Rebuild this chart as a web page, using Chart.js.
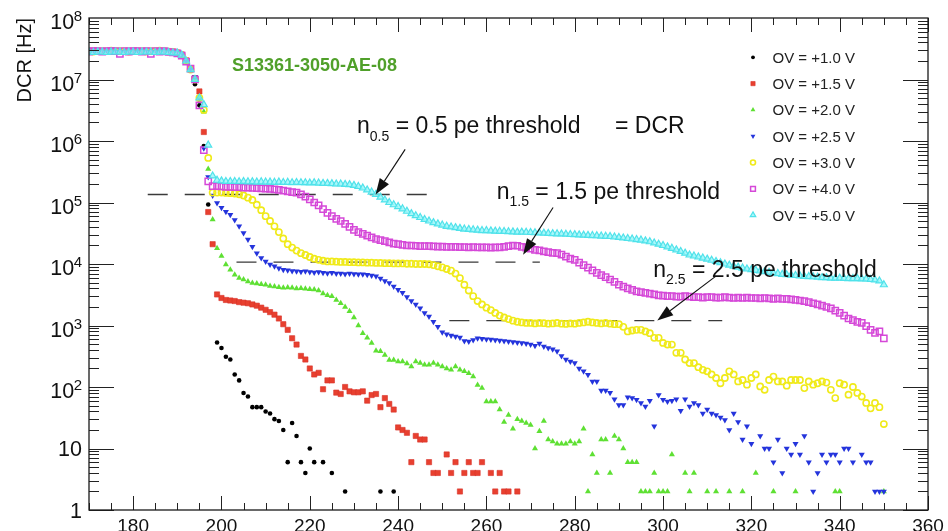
<!DOCTYPE html>
<html><head><meta charset="utf-8">
<script src="https://cdn.jsdelivr.net/npm/chart.js@4.4.1/dist/chart.umd.min.js"></script>
<style>html,body{margin:0;padding:0;background:#fff;}canvas{display:block;}</style>
</head><body>
<canvas id="c" width="948" height="531"></canvas>
<script>
// Threshold (DAC units), 170 .. 350
const dac = [
170,171,172,173,174,175,176,177,178,179,
180,181,182,183,184,185,186,187,188,189,
190,191,192,193,194,195,196,197,198,199,
200,201,202,203,204,205,206,207,208,209,
210,211,212,213,214,215,216,217,218,219,
220,221,222,223,224,225,226,227,228,229,
230,231,232,233,234,235,236,237,238,239,
240,241,242,243,244,245,246,247,248,249,
250,251,252,253,254,255,256,257,258,259,
260,261,262,263,264,265,266,267,268,269,
270,271,272,273,274,275,276,277,278,279,
280,281,282,283,284,285,286,287,288,289,
290,291,292,293,294,295,296,297,298,299,
300,301,302,303,304,305,306,307,308,309,
310,311,312,313,314,315,316,317,318,319,
320,321,322,323,324,325,326,327,328,329,
330,331,332,333,334,335,336,337,338,339,
340,341,342,343,344,345,346,347,348,349,
350];

// DCR [Hz] per over-voltage (null = no count)
const dcrOV10 = [
2.9e7,2.9e7,2.85e7,2.9e7,2.9e7,2.9e7,2.95e7,2.9e7,2.9e7,2.9e7,
2.9e7,2.95e7,2.9e7,2.9e7,2.9e7,2.95e7,2.9e7,2.9e7,2.85e7,2.8e7,
2.7e7,2.5e7,2.0e7,1.45e7,8.4e6,3.8e6,8.3e5,9.3e4,null,530,
430,310,280,160,128,80,70,47,47,47,
40,37,30,28,20,6,26,16,6,4,
10,6,null,6,null,4,null,null,2,null,
null,null,null,null,null,null,2,null,null,2];

const dcrOV15 = [
2.9e7,2.95e7,2.9e7,2.9e7,2.9e7,2.85e7,2.9e7,2.9e7,2.9e7,2.95e7,
2.9e7,2.9e7,2.9e7,2.95e7,2.9e7,2.9e7,2.9e7,2.9e7,2.9e7,2.85e7,
2.7e7,2.55e7,2.05e7,1.5e7,1.05e7,6.4e6,1.4e6,7.0e4,2.1e4,3.2e3,
2.8e3,2.6e3,2.55e3,2.5e3,2.4e3,2.35e3,2.3e3,2.2e3,2.1e3,1.95e3,
1.8e3,1.65e3,1.5e3,1.3e3,1.05e3,850,620,490,320,280,
200,160,170,92,128,128,81,77,100,85,
82,82,85,60,74,77,47,66,53,43,
22,20,18,6,16,14,14,6,4,4,
null,8,4,6,2,4,6,4,4,6,
null,4,2,4,2,2,null,2];

const dcrOV20 = [
2.9e7,2.9e7,2.9e7,2.85e7,2.9e7,2.9e7,2.9e7,2.95e7,2.9e7,2.9e7,
2.95e7,2.9e7,2.9e7,2.9e7,2.85e7,2.9e7,2.9e7,2.95e7,2.9e7,2.8e7,
2.7e7,2.5e7,2.0e7,1.5e7,1.0e7,5.0e6,3.0e6,3.5e5,5.3e4,1.8e4,
1.35e4,9.8e3,8.1e3,6.7e3,5.9e3,5.6e3,5.2e3,4.9e3,4.8e3,4.7e3,
4.6e3,4.4e3,4.3e3,4.2e3,4.1e3,4.15e3,4.1e3,4.0e3,4.05e3,3.95e3,
3.9e3,3.85e3,3.7e3,3.3e3,3.1e3,3.0e3,2.6e3,2.3e3,2.0e3,1.7e3,
1.35e3,1.0e3,750,630,520,390,380,330,275,275,
260,260,240,215,260,245,230,230,245,230,
215,200,190,215,190,180,168,148,108,96,
58,58,58,43,27,35,21,30,28,26,
24,10,19,28,14,13,12,12,12,13,
12,13,21,2,8,4,14,14,4,16,
14,10,6,6,6,2,2,2,4,2,
2,2,8,null,null,4,2,4,null,null,
2,null,2,null,null,2,null,null,2,null,
null,4,null,null,null,2,null,null,null,null,
2,null,null,null,null,null,null,null,null,2,
2,null,null,null,null,null,null,null,null,null,
2];

const dcrOV25 = [
2.9e7,2.9e7,2.9e7,2.9e7,2.85e7,2.9e7,2.9e7,2.9e7,2.95e7,2.9e7,
2.9e7,2.9e7,2.95e7,2.9e7,2.9e7,2.9e7,2.85e7,2.9e7,2.9e7,2.85e7,
2.7e7,2.55e7,2.0e7,1.5e7,1.1e7,4.6e6,7.6e5,2.6e5,1.3e5,9.8e4,
8.2e4,7.1e4,6.3e4,5.2e4,4.1e4,3.2e4,2.5e4,1.9e4,1.5e4,1.25e4,
1.1e4,9.8e3,9.2e3,8.5e3,8.1e3,7.9e3,7.7e3,7.6e3,7.5e3,7.6e3,
7.4e3,7.3e3,7.4e3,7.2e3,7.1e3,7.2e3,7.0e3,7.0e3,6.9e3,7.0e3,
6.9e3,6.8e3,6.8e3,6.7e3,6.5e3,6.3e3,5.8e3,5.3e3,4.9e3,4.3e3,
3.8e3,3.4e3,2.9e3,2.5e3,2.2e3,1.9e3,1.6e3,1.4e3,1.15e3,950,
780,720,690,660,640,560,550,580,620,610,
600,590,580,570,560,550,540,530,520,510,
490,470,510,457,430,410,380,320,280,260,
245,200,180,158,123,123,88,88,81,63,
51,51,68,66,62,55,48,60,23,74,
62,58,60,63,41,63,48,55,51,37,
43,37,35,32,29,20,37,27,14,23,
12,null,16,10,10,6,14,4,10,8,
12,8,16,6,2,4,8,6,8,8,
6,10,10,6,null,8,6,6,2,2,
2];

const dcrOV30 = [
2.9e7,2.85e7,2.9e7,2.9e7,2.9e7,2.95e7,2.9e7,2.9e7,2.9e7,2.85e7,
2.9e7,2.9e7,2.9e7,2.85e7,2.9e7,2.9e7,2.95e7,2.9e7,2.85e7,2.8e7,
2.7e7,2.5e7,2.0e7,1.45e7,1.0e7,5.0e6,3.2e6,5.3e5,1.45e5,1.45e5,
1.45e5,1.43e5,1.42e5,1.4e5,1.36e5,1.3e5,1.2e5,1.1e5,9.2e4,7.5e4,
6.0e4,5.0e4,4.1e4,3.3e4,2.6e4,2.1e4,1.85e4,1.65e4,1.5e4,1.4e4,
1.3e4,1.22e4,1.17e4,1.13e4,1.1e4,1.1e4,1.09e4,1.08e4,1.08e4,1.07e4,
1.07e4,1.06e4,1.06e4,1.05e4,1.05e4,1.04e4,1.04e4,1.03e4,1.03e4,1.02e4,
1.02e4,1.02e4,1.01e4,1.01e4,1.0e4,1.0e4,1.0e4,9.9e3,9.6e3,9.2e3,
8.8e3,8.3e3,7.8e3,7.0e3,5.9e3,4.6e3,3.7e3,3.0e3,2.5e3,2.2e3,
1.95e3,1.78e3,1.6e3,1.45e3,1.35e3,1.27e3,1.2e3,1.15e3,1.12e3,1.1e3,
1.1e3,1.08e3,1.1e3,1.09e3,1.07e3,1.08e3,1.1e3,1.07e3,1.06e3,1.08e3,
1.07e3,1.1e3,1.12e3,1.15e3,1.12e3,1.1e3,1.08e3,1.1e3,1.07e3,1.05e3,
1.05e3,950,800,830,850,850,800,750,630,630,
520,490,490,360,360,280,245,245,210,190,
180,160,140,115,140,180,160,123,130,109,
140,160,102,90,130,148,123,123,105,130,
130,130,96,123,109,115,123,118,90,66,
115,109,75,100,80,70,55,45,55,47,
25];

const dcrOV40 = [
2.85e7,2.9e7,2.9e7,2.85e7,2.9e7,2.9e7,2.9e7,2.6e7,2.9e7,2.85e7,
2.9e7,2.9e7,2.85e7,2.9e7,2.6e7,2.9e7,2.85e7,2.9e7,2.8e7,2.75e7,
2.65e7,2.45e7,1.95e7,1.5e7,1.0e7,3.8e6,7.1e5,2.2e5,1.85e5,1.85e5,
1.82e5,1.8e5,1.8e5,1.78e5,1.77e5,1.75e5,1.75e5,1.73e5,1.72e5,1.7e5,
1.68e5,1.66e5,1.63e5,1.6e5,1.56e5,1.52e5,1.48e5,1.45e5,1.35e5,1.25e5,
1.12e5,1.0e5,9.0e4,7.8e4,6.8e4,6.0e4,5.4e4,5.0e4,4.5e4,4.0e4,
3.6e4,3.3e4,3.1e4,2.9e4,2.7e4,2.55e4,2.45e4,2.35e4,2.25e4,2.15e4,
2.1e4,2.05e4,2.0e4,2.0e4,1.98e4,1.96e4,1.95e4,1.95e4,1.93e4,1.92e4,
1.92e4,1.9e4,1.9e4,1.9e4,1.88e4,1.88e4,1.87e4,1.88e4,1.87e4,1.86e4,
1.86e4,1.85e4,1.87e4,1.86e4,1.9e4,1.95e4,2.0e4,1.98e4,1.9e4,1.85e4,
1.78e4,1.7e4,1.66e4,1.6e4,1.56e4,1.52e4,1.5e4,1.42e4,1.32e4,1.22e4,
1.17e4,1.05e4,9.6e3,8.7e3,7.9e3,7.2e3,6.6e3,6.1e3,5.6e3,5.1e3,
4.6e3,4.3e3,4.0e3,3.8e3,3.6e3,3.5e3,3.4e3,3.3e3,3.2e3,3.1e3,
3.05e3,3.0e3,3.0e3,2.95e3,2.95e3,3.0e3,2.95e3,2.9e3,2.9e3,2.85e3,
2.9e3,2.9e3,2.85e3,2.85e3,2.9e3,2.85e3,2.8e3,2.85e3,2.8e3,2.85e3,
2.8e3,2.8e3,2.75e3,2.8e3,2.75e3,2.7e3,2.75e3,2.7e3,2.7e3,2.65e3,
2.6e3,2.55e3,2.5e3,2.4e3,2.3e3,2.2e3,2.1e3,2.0e3,1.9e3,1.75e3,
1.6e3,1.45e3,1.3e3,1.22e3,1.15e3,1.1e3,980,850,760,800,
620];

const dcrOV50 = [
2.8e7,2.75e7,2.8e7,2.8e7,2.75e7,2.8e7,2.8e7,2.8e7,2.75e7,2.8e7,
2.8e7,2.75e7,2.8e7,2.8e7,2.8e7,2.75e7,2.8e7,2.8e7,2.75e7,2.7e7,
2.7e7,2.5e7,2.0e7,1.45e7,1.0e7,5.0e6,3.9e6,8.6e5,2.7e5,2.3e5,
2.25e5,2.2e5,2.2e5,2.2e5,2.18e5,2.2e5,2.17e5,2.18e5,2.15e5,2.17e5,
2.15e5,2.15e5,2.13e5,2.15e5,2.12e5,2.13e5,2.1e5,2.12e5,2.1e5,2.1e5,
2.08e5,2.1e5,2.07e5,2.05e5,2.05e5,2.03e5,2.0e5,2.0e5,1.97e5,1.95e5,
1.9e5,1.82e5,1.72e5,1.6e5,1.48e5,1.36e5,1.22e5,1.1e5,1.0e5,9.2e4,
8.6e4,7.9e4,7.2e4,6.6e4,6.1e4,5.7e4,5.3e4,5.0e4,4.7e4,4.5e4,
4.3e4,4.1e4,4.0e4,3.9e4,3.8e4,3.7e4,3.65e4,3.6e4,3.55e4,3.5e4,
3.5e4,3.45e4,3.42e4,3.4e4,3.38e4,3.35e4,3.33e4,3.3e4,3.3e4,3.28e4,
3.25e4,3.22e4,3.2e4,3.18e4,3.15e4,3.12e4,3.1e4,3.08e4,3.05e4,3.02e4,
3.0e4,2.98e4,2.95e4,2.92e4,2.9e4,2.88e4,2.85e4,2.82e4,2.8e4,2.75e4,
2.7e4,2.65e4,2.6e4,2.55e4,2.5e4,2.45e4,2.38e4,2.3e4,2.2e4,2.1e4,
2.0e4,1.9e4,1.8e4,1.7e4,1.6e4,1.5e4,1.4e4,1.35e4,1.3e4,1.25e4,
1.2e4,1.15e4,1.1e4,1.05e4,1.0e4,9.6e3,9.2e3,8.9e3,8.6e3,8.3e3,
8.1e3,7.9e3,7.7e3,7.5e3,7.3e3,7.1e3,7.0e3,6.8e3,6.7e3,6.6e3,
6.5e3,6.4e3,6.3e3,6.25e3,6.2e3,6.1e3,6.0e3,6.0e3,5.9e3,5.9e3,
5.9e3,5.85e3,5.8e3,5.8e3,5.8e3,5.75e3,5.7e3,5.6e3,5.5e3,5.3e3,
4.6e3];

const seriesLabels = ['OV = +1.0 V','OV = +1.5 V','OV = +2.0 V','OV = +2.5 V','OV = +3.0 V','OV = +4.0 V','OV = +5.0 V'];
const seriesValues = [dcrOV10, dcrOV15, dcrOV20, dcrOV25, dcrOV30, dcrOV40, dcrOV50];

// Threshold levels (Hz) marked by dashed lines
const thresholdRates = [1.35e5, 1.07e4, 1.2e3];
const xTickLabels = ['180','200','220','240','260','280','300','320','340','360'];
const yTickExponents = [0,1,2,3,4,5,6,7,8];

// ---- styling / annotation layout (not data) ----
const markerStyles = [
  {color:'#000000', fill:'#000000', style:'circle',   r:2.3, rot:0,   lw:0,   lr:1.9},
  {color:'#d9322a', fill:'#e8402f', style:'rect',     r:3.7, rot:0,   lw:0.6, lr:3.0},
  {color:'#4fd628', fill:'#5ee033', style:'triangle', r:3.5, rot:0,   lw:0,   lr:2.8},
  {color:'#2232d6', fill:'#2434dc', style:'triangle', r:3.5, rot:180, lw:0,   lr:2.8},
  {color:'#f0ea1a', fill:'rgba(0,0,0,0)', style:'circle', r:3.1, rot:0, lw:1.6, lr:2.5},
  {color:'#d548d8', fill:'rgba(0,0,0,0)', style:'rect', r:4.4, rot:0, lw:1.5, lr:3.4},
  {color:'#4fe2ea', fill:'rgba(140,244,248,0.75)', style:'triangle', r:4.0, rot:0, lw:1.2, lr:3.2}
];
const dashedExtents = [[183.3, 248.6],[203.4, 272.1],[251.6, 313.4]];
const arrows = [
  {from:[241.6, 7.3e5], to:[234.9, 1.35e5]},
  {from:[275.1, 8.3e4], to:[268.3, 1.42e4]},
  {from:[311.9, 6.3e3], to:[298.7, 1.21e3]}
];
const FONT = "'Liberation Sans', Arial, Helvetica, sans-serif";

const datasets = [];
seriesValues.forEach((vals, i) => {
  const pts = [];
  for (let j = 0; j < vals.length; j++) {
    if (vals[j] !== null && vals[j] !== undefined) pts.push({x: dac[j], y: vals[j]});
  }
  const s = markerStyles[i];
  datasets.push({
    type: 'scatter', label: seriesLabels[i], data: pts,
    pointStyle: s.style, pointRadius: s.r, pointRotation: s.rot,
    pointBackgroundColor: s.fill, pointBorderColor: s.color, pointBorderWidth: s.lw,
    backgroundColor: s.fill, borderColor: s.color,
    order: 6 - i
  });
});
thresholdRates.forEach((rate, i) => {
  datasets.push({
    type: 'line', label: 'threshold ' + i,
    data: [{x: dashedExtents[i][0], y: rate}, {x: dashedExtents[i][1], y: rate}],
    borderColor: '#3a3a3a', borderWidth: 1.3, borderDash: [20, 17],
    pointRadius: 0, fill: false, order: 20
  });
});

function drawMarker(ctx, s, x, y, r) {
  ctx.beginPath();
  if (s.style === 'circle') {
    ctx.arc(x, y, r, 0, Math.PI * 2);
  } else if (s.style === 'rect') {
    const h = r * Math.SQRT1_2;
    ctx.rect(x - h, y - h, 2 * h, 2 * h);
  } else {
    let a = s.rot * Math.PI / 180;
    for (let k = 0; k < 3; k++) {
      const px = x + Math.sin(a) * r, py = y - Math.cos(a) * r;
      if (k === 0) ctx.moveTo(px, py); else ctx.lineTo(px, py);
      a += 2 * Math.PI / 3;
    }
    ctx.closePath();
  }
  ctx.fillStyle = s.fill; ctx.fill();
  if (s.lw > 0) { ctx.strokeStyle = s.color; ctx.lineWidth = s.lw; ctx.stroke(); }
}

function richText(ctx, x, y, parts) {
  let cx = x;
  parts.forEach(p => {
    ctx.font = p.size + 'px ' + FONT;
    ctx.fillText(p.t, cx, y + (p.dy || 0));
    cx += ctx.measureText(p.t).width;
  });
}

function drawArrow(ctx, x0, y0, x1, y1) {
  const ang = Math.atan2(y1 - y0, x1 - x0);
  const L = 16, W = 5.5;
  const bx = x1 - Math.cos(ang) * L, by = y1 - Math.sin(ang) * L;
  ctx.beginPath(); ctx.moveTo(x0, y0); ctx.lineTo(bx, by);
  ctx.strokeStyle = '#111'; ctx.lineWidth = 1.1; ctx.stroke();
  ctx.beginPath();
  ctx.moveTo(x1, y1);
  ctx.lineTo(bx + Math.sin(ang) * W, by - Math.cos(ang) * W);
  ctx.lineTo(bx - Math.sin(ang) * W, by + Math.cos(ang) * W);
  ctx.closePath(); ctx.fillStyle = '#111'; ctx.fill();
}

const deco = {
  id: 'deco',
  afterDraw(chart) {
    const ctx = chart.ctx, ca = chart.chartArea;
    const xs = chart.scales.x, ys = chart.scales.y;
    ctx.save();
    // tick marks (inward, all four sides)
    ctx.strokeStyle = '#222'; ctx.lineWidth = 1;
    ctx.beginPath();
    for (let v = 170; v <= 360; v += 5) {
      const px = Math.round(xs.getPixelForValue(v)) + 0.5;
      const len = (v % 20 === 0) ? 14 : 7;
      ctx.moveTo(px, ca.bottom); ctx.lineTo(px, ca.bottom - len);
      ctx.moveTo(px, ca.top); ctx.lineTo(px, ca.top + len);
    }
    for (let k = 0; k < 8; k++) {
      for (let m = 1; m <= 9; m++) {
        const py = Math.round(ys.getPixelForValue(m * Math.pow(10, k))) + 0.5;
        const len = m === 1 ? 25 : 10;
        ctx.moveTo(ca.left, py); ctx.lineTo(ca.left + len, py);
        ctx.moveTo(ca.right, py); ctx.lineTo(ca.right - len, py);
      }
    }
    ctx.stroke();
    // frame
    ctx.lineWidth = 1.3; ctx.strokeStyle = '#1a1a1a';
    ctx.strokeRect(ca.left, ca.top, ca.right - ca.left, ca.bottom - ca.top);

    // x tick labels
    ctx.fillStyle = '#111';
    ctx.font = '19px ' + FONT; ctx.textAlign = 'center'; ctx.textBaseline = 'alphabetic';
    xTickLabels.forEach(t => ctx.fillText(t, xs.getPixelForValue(Number(t)), 531.5));

    // y tick labels
    ctx.textAlign = 'left';
    yTickExponents.forEach(k => {
      const py = ys.getPixelForValue(Math.pow(10, k));
      if (k === 0 || k === 1) {
        ctx.font = '21.5px ' + FONT; ctx.textAlign = 'right';
        ctx.fillText(k === 0 ? '1' : '10', 82, py + 7.7);
        ctx.textAlign = 'left';
      } else {
        ctx.font = '15px ' + FONT;
        const sup = String(k);
        const sw = ctx.measureText(sup).width;
        ctx.fillText(sup, 82 - sw, py + 3);
        ctx.font = '21.5px ' + FONT; ctx.textAlign = 'right';
        ctx.fillText('10', 82 - sw + 0.5, py + 11);
        ctx.textAlign = 'left';
      }
    });

    // y axis title
    ctx.save();
    ctx.translate(31, 18); ctx.rotate(-Math.PI / 2);
    ctx.font = '20px ' + FONT; ctx.textAlign = 'right'; ctx.fillStyle = '#111';
    ctx.fillText('DCR [Hz]', 0, 0);
    ctx.restore();

    // device name
    ctx.font = 'bold 18px ' + FONT; ctx.fillStyle = '#50a02a'; ctx.textAlign = 'left';
    ctx.fillText('S13361-3050-AE-08', 232, 71);

    // threshold annotations
    ctx.fillStyle = '#111';
    richText(ctx, 357, 133, [{t:'n', size:23}, {t:'0.5', size:14, dy:8}, {t:' = 0.5 pe threshold', size:23}]);
    richText(ctx, 615, 133, [{t:'= DCR', size:23}]);
    richText(ctx, 496.7, 199.3, [{t:'n', size:23}, {t:'1.5', size:14, dy:7}, {t:' = 1.5 pe threshold', size:23}]);
    richText(ctx, 653.3, 276.7, [{t:'n', size:23}, {t:'2.5', size:14, dy:7}, {t:' = 2.5 pe threshold', size:23}]);
    arrows.forEach(a => drawArrow(ctx,
      xs.getPixelForValue(a.from[0]), ys.getPixelForValue(a.from[1]),
      xs.getPixelForValue(a.to[0]), ys.getPixelForValue(a.to[1])));

    // legend
    seriesLabels.forEach((lab, i) => {
      const yc = 57.3 + i * 26.3;
      const s = markerStyles[i];
      drawMarker(ctx, s, 753, yc, s.lr);
      ctx.font = '15px ' + FONT; ctx.fillStyle = '#222'; ctx.textAlign = 'left';
      ctx.fillText(lab, 772.5, yc + 5.5);
    });
    ctx.restore();
  }
};

new Chart(document.getElementById('c'), {
  data: { datasets },
  options: {
    responsive: false, animation: false, devicePixelRatio: 1, events: [],
    layout: { padding: { left: 89, top: 18, right: 20, bottom: 21 } },
    plugins: { legend: { display: false }, tooltip: { enabled: false }, title: { display: false } },
    scales: {
      x: { type: 'linear', min: 170, max: 360, display: false },
      y: { type: 'logarithmic', min: 1, max: 1e8, display: false }
    }
  },
  plugins: [deco]
});
</script>
</body></html>
